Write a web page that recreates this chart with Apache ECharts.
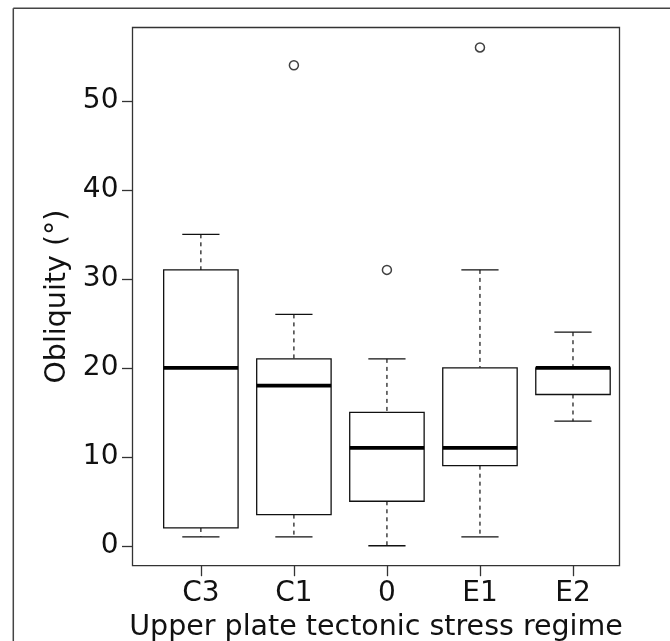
<!DOCTYPE html>
<html>
<head>
<meta charset="utf-8">
<script src="https://cdn.jsdelivr.net/npm/echarts@6/dist/echarts.min.js"></script>
<style>
html,body{margin:0;padding:0;background:#fff;}
#chart{width:670px;height:641px;}
</style>
</head>
<body>
<div id="chart"></div>
<script>
// Categories (x positions 1..5)
const categories = ['C3', 'C1', '0', 'E1', 'E2'];
// Box statistics
const lowerWhisker = [1, 1, 0, 1, 14];
const lowerQuartile = [2, 3.5, 5, 9, 17];
const medians = [20, 18, 11, 11, 20];
const upperQuartile = [31, 21, 15, 20, 20];
const upperWhisker = [35, 26, 21, 31, 24];
// Outliers: [category index, value]
const outliers = [[1, 54], [2, 31], [3, 56]];
// Y tick labels
const yTicks = [0, 10, 20, 30, 40, 50];
const xTicks = [1, 2, 3, 4, 5];

const boxData = categories.map((c, i) => [i + 1, lowerWhisker[i], lowerQuartile[i], medians[i], upperQuartile[i], upperWhisker[i]]);
const outlierData = outliers.map(o => [o[0] + 1, o[1]]);

const chart = echarts.init(document.getElementById('chart'), null, {renderer: 'canvas'});
const FONT = 'DejaVu Sans';
const INK = '#111';

function renderBox(params, api) {
  const x = api.value(0);
  const lo = api.coord([x, api.value(1)]);
  const q1 = api.coord([x, api.value(2)]);
  const md = api.coord([x, api.value(3)]);
  const q3 = api.coord([x, api.value(4)]);
  const hi = api.coord([x, api.value(5)]);
  const half = api.size([0.8, 0])[0] / 2;
  const cap = api.size([0.4, 0])[0] / 2;
  const cx = lo[0];
  const solid = {stroke: INK, lineWidth: 1.3, fill: null};
  const dashed = {stroke: INK, lineWidth: 1.2, lineDash: [4, 4], fill: null};
  return {
    type: 'group',
    children: [
      {type: 'line', shape: {x1: cx, y1: hi[1], x2: cx, y2: q3[1]}, style: dashed},
      {type: 'line', shape: {x1: cx, y1: q1[1], x2: cx, y2: lo[1]}, style: dashed},
      {type: 'line', shape: {x1: cx - cap, y1: hi[1], x2: cx + cap, y2: hi[1]}, style: solid},
      {type: 'line', shape: {x1: cx - cap, y1: lo[1], x2: cx + cap, y2: lo[1]}, style: solid},
      {type: 'rect', shape: {x: cx - half, y: q3[1], width: half * 2, height: q1[1] - q3[1]}, style: {stroke: INK, lineWidth: 1.3, fill: '#fff'}},
      {type: 'line', shape: {x1: cx - half, y1: md[1], x2: cx + half, y2: md[1]}, style: {stroke: '#000', lineWidth: 3.8}}
    ]
  };
}

const option = {
  backgroundColor: '#fff',
  animation: false,
  grid: {left: 132.5, right: 50.5, top: 27.5, bottom: 75.3, containLabel: false, outerBoundsMode: 'none', show: true, borderColor: '#333', borderWidth: 1.3, backgroundColor: 'transparent'},
  xAxis: {
    type: 'value', min: 0.265, max: 5.5,
    name: 'Upper plate tectonic stress regime', nameLocation: 'middle', nameGap: 34,
    nameTextStyle: {fontFamily: FONT, fontSize: 28.5, color: INK},
    axisLine: {show: false, onZero: false},
    splitLine: {show: false},
    axisTick: {show: true, inside: false, length: 10.5, customValues: xTicks, lineStyle: {color: '#333', width: 1.3}},
    axisLabel: {customValues: xTicks, formatter: v => categories[Math.round(v) - 1], fontFamily: FONT, fontSize: 28, color: INK, margin: 14}
  },
  yAxis: {
    type: 'value', min: -2.24, max: 58.24,
    name: 'Obliquity (°)', nameLocation: 'middle', nameGap: 43,
    nameTextStyle: {fontFamily: FONT, fontSize: 28.5, color: INK},
    axisLine: {show: false, onZero: false},
    splitLine: {show: false},
    axisTick: {show: true, inside: false, length: 10.5, customValues: yTicks, lineStyle: {color: '#333', width: 1.3}},
    axisLabel: {customValues: yTicks, fontFamily: FONT, fontSize: 28, color: INK, margin: 14}
  },
  graphic: [
    {type: 'line', shape: {x1: 13.3, y1: 8.3, x2: 670, y2: 8.3}, style: {stroke: '#444', lineWidth: 1.5}, silent: true},
    {type: 'line', shape: {x1: 13.3, y1: 8.3, x2: 13.3, y2: 641}, style: {stroke: '#444', lineWidth: 1.5}, silent: true}
  ],
  series: [
    {type: 'custom', renderItem: renderBox, data: boxData, encode: {x: 0, y: [1, 2, 3, 4, 5]}, clip: false},
    {type: 'scatter', data: outlierData, symbol: 'circle', symbolSize: 9, itemStyle: {color: '#fff', borderColor: INK, borderWidth: 1.5}}
  ]
};
chart.setOption(option);
</script>
</body>
</html>
